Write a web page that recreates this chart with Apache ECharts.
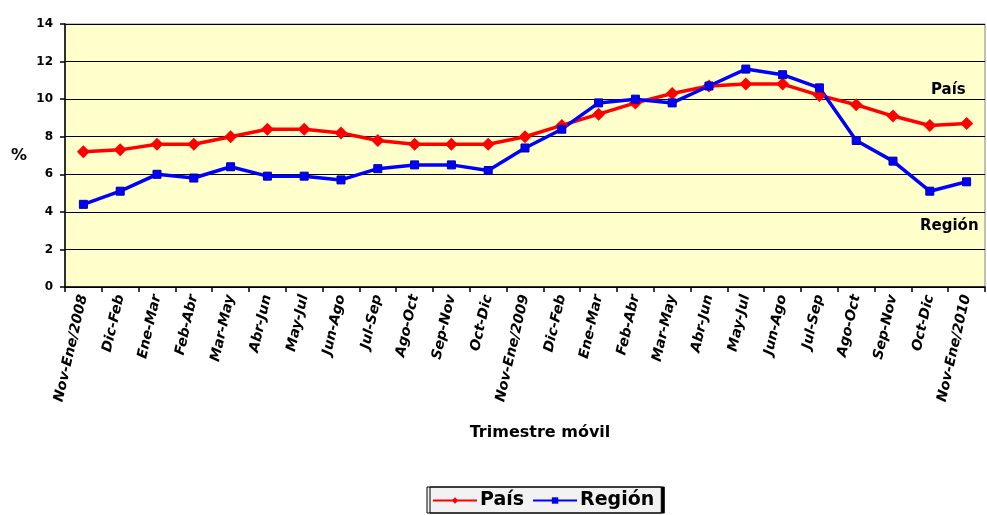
<!DOCTYPE html>
<html>
<head>
    <meta charset="utf-8">
    <title>Trimestre móvil</title>
    <script src="https://cdn.jsdelivr.net/npm/echarts@6.0.0/dist/echarts.min.js"></script>
    <style>
        html, body { margin: 0; padding: 0; background: #fff; }
        #chart { width: 987px; height: 515px; }
    </style>
</head>
<body>
<div id="chart"></div>
<script type="text/javascript">
    const categories = ['Nov-Ene/2008', 'Dic-Feb', 'Ene-Mar', 'Feb-Abr', 'Mar-May', 'Abr-Jun', 'May-Jul',
        'Jun-Ago', 'Jul-Sep', 'Ago-Oct', 'Sep-Nov', 'Oct-Dic', 'Nov-Ene/2009', 'Dic-Feb', 'Ene-Mar',
        'Feb-Abr', 'Mar-May', 'Abr-Jun', 'May-Jul', 'Jun-Ago', 'Jul-Sep', 'Ago-Oct', 'Sep-Nov',
        'Oct-Dic', 'Nov-Ene/2010'];
    const pais = [7.2, 7.3, 7.6, 7.6, 8.0, 8.4, 8.4, 8.2, 7.8, 7.6, 7.6, 7.6, 8.0, 8.6, 9.2,
        9.8, 10.3, 10.7, 10.8, 10.8, 10.2, 9.7, 9.1, 8.6, 8.7];
    const region = [4.4, 5.1, 6.0, 5.8, 6.4, 5.9, 5.9, 5.7, 6.3, 6.5, 6.5, 6.2, 7.4, 8.4, 9.8,
        10.0, 9.8, 10.7, 11.6, 11.3, 10.6, 7.8, 6.7, 5.1, 5.6];
    const yTicks = {min: 0, max: 14, interval: 2};

    const font = 'Tahoma, "DejaVu Sans", sans-serif';
    const chart = echarts.init(document.getElementById('chart'));

    const option = {
        animation: false,
        textStyle: {fontFamily: font},
        grid: {
            left: 65,
            right: 2,
            top: 24,
            bottom: 228,
            show: true,
            backgroundColor: '#ffffcc',
            borderColor: '#808080',
            borderWidth: 1
        },
        legend: {
            bottom: 2,
            left: 427,
            padding: [4, 7, 3, 5],
            itemGap: 8,
            itemWidth: 44,
            itemHeight: 8,
            itemStyle: {borderWidth: 0},
            backgroundColor: '#f2f2f2',
            borderColor: '#000',
            borderWidth: 1,
            shadowColor: '#000',
            shadowOffsetX: 3,
            shadowBlur: 0,
            textStyle: {fontFamily: font, fontWeight: 'bold', fontSize: 19, color: '#000', padding: [0, 0, 0, -2]},
            data: ['País', 'Región']
        },
        xAxis: {
            type: 'category',
            data: categories,
            boundaryGap: true,
            name: 'Trimestre móvil',
            nameLocation: 'middle',
            nameGap: 138,
            nameTextStyle: {fontFamily: font, fontWeight: 'bold', fontSize: 16, color: '#000', padding: [0, 0, 0, 30]},
            axisLine: {lineStyle: {color: '#000', width: 1.5}},
            axisTick: {show: true, alignWithLabel: false, length: 5, lineStyle: {color: '#000', width: 1.5}},
            axisLabel: {
                interval: 0,
                rotate: 77,
                margin: 8,
                fontFamily: font,
                fontWeight: 'bold',
                fontStyle: 'italic',
                fontSize: 14,
                color: '#000'
            },
            splitLine: {show: false}
        },
        yAxis: {
            type: 'value',
            min: yTicks.min,
            max: yTicks.max,
            interval: yTicks.interval,
            name: '%',
            nameLocation: 'middle',
            nameRotate: 0,
            nameGap: 38,
            nameTextStyle: {fontFamily: font, fontWeight: 'bold', fontSize: 16, color: '#000', padding: [8, 0, 0, 0]},
            axisLine: {show: true, lineStyle: {color: '#000', width: 1.5}},
            axisTick: {show: true, length: 5, lineStyle: {color: '#000', width: 1.5}},
            axisLabel: {fontFamily: font, fontWeight: 'bold', fontSize: 12, color: '#000', margin: 12},
            splitLine: {show: true, lineStyle: {color: '#000', width: 1.2}}
        },
        series: [
            {
                name: 'País',
                type: 'line',
                data: pais,
                symbol: 'diamond',
                symbolSize: 13,
                lineStyle: {color: '#ff0000', width: 3.5},
                itemStyle: {color: '#ff0000'}
            },
            {
                name: 'Región',
                type: 'line',
                data: region,
                symbol: 'rect',
                symbolSize: 8,
                lineStyle: {color: '#0000ff', width: 3.5},
                itemStyle: {color: '#0000ff', borderColor: '#0000a0', borderWidth: 1}
            }
        ],
        graphic: [
            {
                type: 'text',
                left: 931,
                top: 83,
                style: {text: 'País', font: 'bold 15px ' + font, fill: '#000'}
            },
            {
                type: 'text',
                left: 920,
                top: 219,
                style: {text: 'Región', font: 'bold 15px ' + font, fill: '#000'}
            }
        ]
    };
    chart.setOption(option);
</script>
</body>
</html>
